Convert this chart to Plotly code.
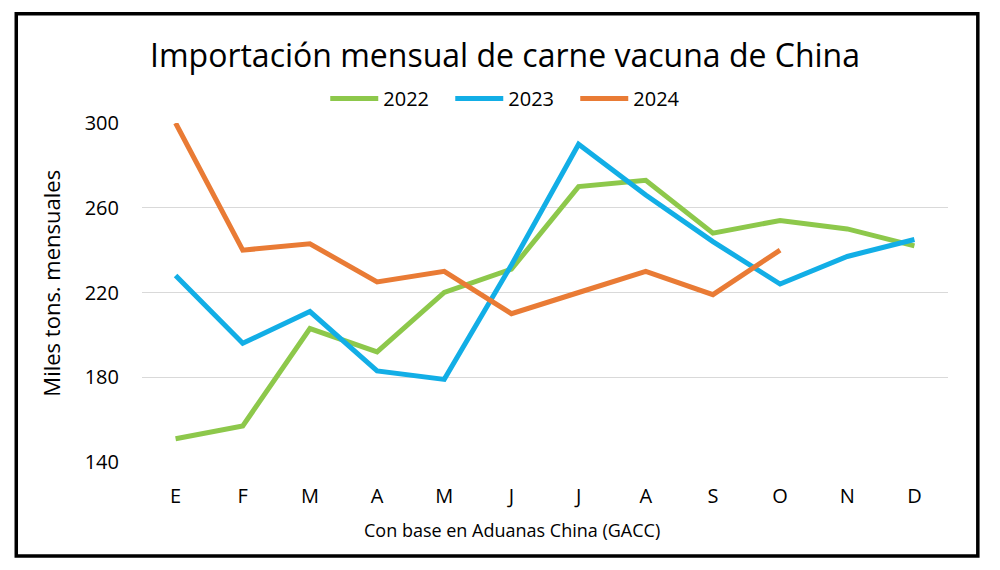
import plotly.graph_objects as go

# monthly imports, thousand tonnes
months = ["E", "F", "M", "A", "M", "J", "J", "A", "S", "O", "N", "D"]
y2022 = [151, 157, 203, 192, 220, 231, 270, 273, 248, 254, 250, 242]
y2023 = [228, 196, 211, 183, 179, 233, 290, 266, 244, 224, 237, 245]
y2024 = [300, 240, 243, 225, 230, 210, 220, 230, 219, 240]
y_ticks = [140, 180, 220, 260, 300]

series = [
    ("2022", y2022, "#8DC84B"),
    ("2023", y2023, "#12AEE6"),
    ("2024", y2024, "#E97B35"),
]

fig = go.Figure()
for name, vals, col in series:
    fig.add_trace(go.Scatter(
        x=list(range(len(vals))), y=vals, name=name, mode="lines",
        line=dict(color=col, width=5), cliponaxis=False,
    ))

# page body has an 8px margin, so everything is pulled up/left by 8px
fnt = "Open Sans"
fig.update_layout(
    width=1000, height=570,
    margin=dict(l=134, r=60, t=115, b=116, autoexpand=False),
    paper_bgcolor="white", plot_bgcolor="white",
    font=dict(family=fnt, color="black"),
    title=dict(text="Importación mensual de carne vacuna de China",
               x=0.497, xanchor="center", y=0.917, yanchor="middle",
               font=dict(size=32, family=fnt)),
    legend=dict(orientation="h", x=0.46, xanchor="center", y=1.072,
                yanchor="middle", font=dict(size=20), itemwidth=48,
                entrywidth=62, entrywidthmode="pixels", tracegroupgap=0),
    showlegend=True,
)
fig.update_xaxes(
    tickvals=list(range(12)), ticktext=months, range=[-0.5, 11.5],
    showgrid=False, zeroline=False, showline=False, ticks="",
    tickfont=dict(size=20), ticklabelstandoff=20,
)
fig.update_yaxes(
    range=[140, 300], tickvals=y_ticks, showgrid=True, gridcolor="#D9D9D9",
    gridwidth=1.3, zeroline=False, showline=False, ticks="",
    tickfont=dict(size=20), ticklabelstandoff=22,
)

# axis titles as annotations (they sit off-centre in the original)
fig.add_annotation(text="Con base en Aduanas China (GACC)", xref="paper",
                   yref="paper", x=0.459, y=-0.2006, showarrow=False,
                   xanchor="center", yanchor="middle", font=dict(size=18))
fig.add_annotation(text="Miles tons. mensuales", xref="paper", yref="paper",
                   x=-0.114, y=0.5265, showarrow=False, textangle=-90,
                   xanchor="center", yanchor="middle", font=dict(size=22))

fig.add_shape(type="rect", xref="paper", yref="paper",
              x0=-0.156, x1=1.037, y0=-0.277, y1=1.322,
              line=dict(color="black", width=3.5))

fig.write_html("out.html")
